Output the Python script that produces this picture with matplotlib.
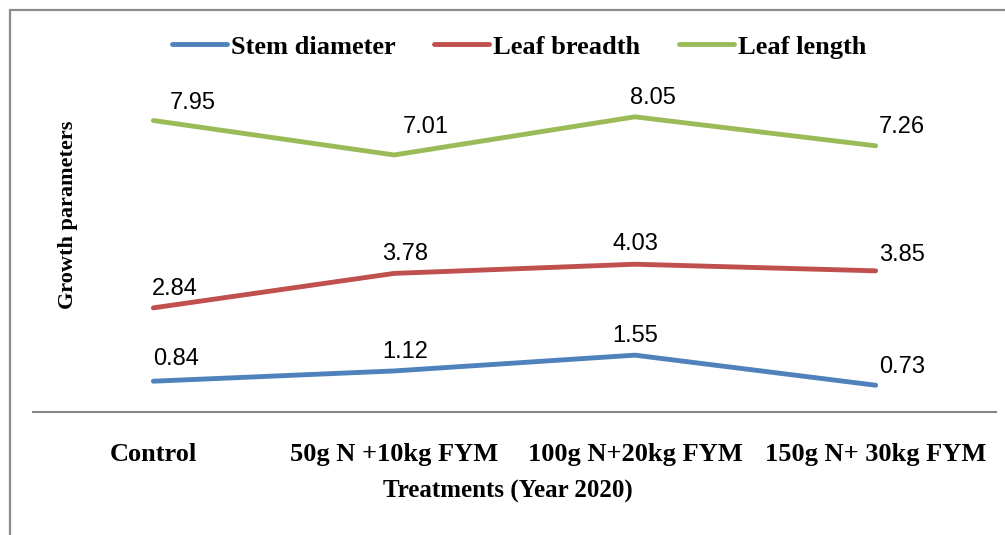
import matplotlib.pyplot as plt
from matplotlib.patches import Rectangle

treatments = ["Control", "50g N +10kg FYM", "100g N+20kg FYM", "150g N+ 30kg FYM"]
stem_diameter = [0.84, 1.12, 1.55, 0.73]
leaf_breadth = [2.84, 3.78, 4.03, 3.85]
leaf_length = [7.95, 7.01, 8.05, 7.26]

series = [
    ("Stem diameter", stem_diameter, "#4F81BD"),
    ("Leaf breadth", leaf_breadth, "#C0504D"),
    ("Leaf length", leaf_length, "#9BBB59"),
]

# label offsets in pixels (dx, dy) per point, same order as series
label_offsets = [
    [(23, 22), (11, 19), (0, 19), (26, 18)],
    [(21, 19), (11, 19), (1, 20), (26, 16)],
    [(39, 18), (32, 28), (18, 19), (26, 19)],
]

W, H = 1005, 535
fig = plt.figure(figsize=(W / 100, H / 100), dpi=100)

# outer frame, runs off the right and bottom edge
fig.patches.append(Rectangle((10 / W, -0.1), 1.2, 1 - 10 / H + 0.1,
                             transform=fig.transFigure, fill=False,
                             edgecolor="#8c8c8c", linewidth=1.6))

ax = fig.add_axes([33 / W, 1 - 412 / H, (996 - 33) / W, (412 - 82) / H])
x = list(range(len(treatments)))

for (name, vals, color), offs in zip(series, label_offsets):
    ax.plot(x, vals, color=color, linewidth=3.5, solid_capstyle="round", label=name)
    for xi, v, (dx, dy) in zip(x, vals, offs):
        ax.annotate(f"{v:.2f}", (xi, v), xytext=(dx, dy), textcoords="offset pixels",
                    ha="center", va="center", fontsize=17, family="Liberation Sans")

ax.set_xlim(-0.5, 3.5)
ax.set_ylim(0, 9)
for s in ["top", "right", "left"]:
    ax.spines[s].set_visible(False)
ax.spines["bottom"].set_color("#868686")
ax.spines["bottom"].set_linewidth(1.5)
ax.set_yticks([])
ax.set_xticks(x)
ax.set_xticklabels(treatments, fontsize=19, fontweight="bold", family="Liberation Serif")
ax.tick_params(axis="x", length=0, pad=22)

ax.set_xlabel("Treatments (Year 2020)", fontsize=18, fontweight="bold", family="Liberation Serif")
ax.xaxis.set_label_coords(0.493, -0.205)
ax.set_ylabel("Growth parameters", fontsize=16, fontweight="bold", family="Liberation Serif")
ax.yaxis.label.set_va("center")
ax.yaxis.set_label_coords(0.036, 0.597)

ax.legend(loc="center", bbox_to_anchor=(519 / W, 1 - 47 / H), bbox_transform=fig.transFigure,
          ncol=3, frameon=False, handlelength=2.1, handletextpad=0.15, columnspacing=1.45,
          prop={"family": "Liberation Serif", "weight": "bold", "size": 19})

fig.savefig("out.png", dpi=100)
